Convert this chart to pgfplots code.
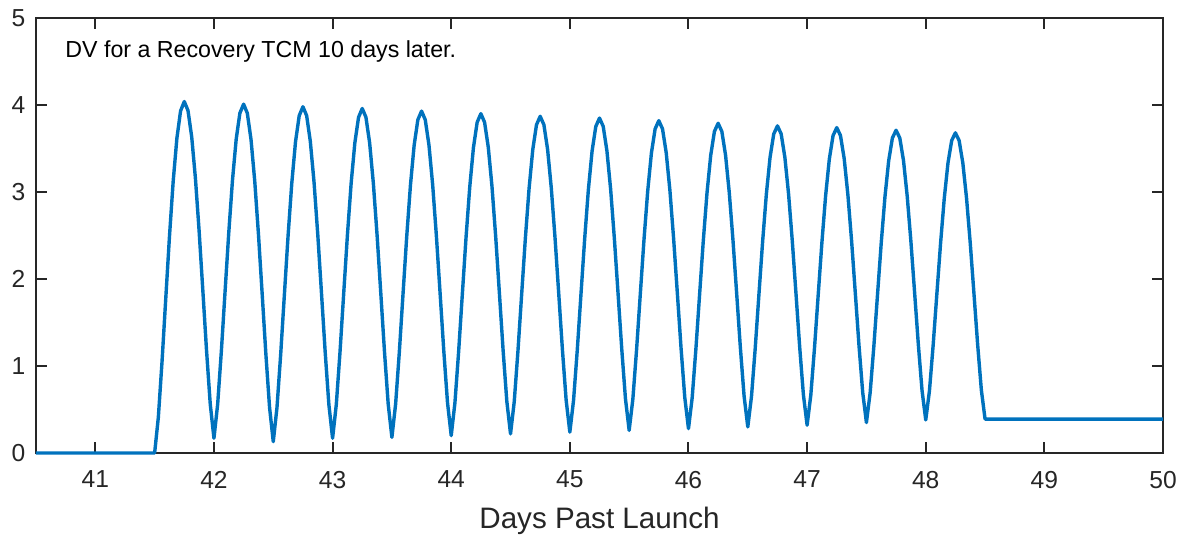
\documentclass[border=0pt]{standalone}
\usepackage{fontspec}
\setmainfont{Liberation Sans}
\usepackage{pgfplots}
\pgfplotsset{compat=1.18}
\definecolor{mblue}{HTML}{0072BD}
\definecolor{axgray}{HTML}{262626}

\begin{document}
\begin{tikzpicture}
\begin{axis}[
    at={(0,0)}, anchor=south west,
    scale only axis,
    width=563.5pt, height=217.5pt,
    xmin=40.5, xmax=50, ymin=0, ymax=5,
    xtick={41,...,50}, ytick={0,...,5},
    tick align=inside,
    major tick length=5.5pt,
    axis line style={axgray, line width=1pt},
    every tick/.style={axgray, line width=1pt},
    tick label style={axgray, font=\fontsize{12.3}{14}\selectfont},
    /pgf/number format/assume math mode=true,
    xticklabel style={yshift=-5.5pt},
    yticklabel style={xshift=-1.8pt},
    xlabel={Days Past Launch},
    xlabel style={at={(rel axis cs:0.5,0)}, anchor=base, yshift=-37.5pt,
        font=\fontsize{14.8}{16}\selectfont, text=axgray},
    clip=false,
]
\addplot[mblue, line width=1.7pt, mark=none, line join=round] coordinates {
(40.5,0) (41.5,0)
(41.53125,0.410) (41.5625,1.053) (41.59375,1.774) (41.625,2.487) (41.65625,3.120) (41.6875,3.616) (41.71875,3.932) (41.75,4.04)
(41.78125,3.936) (41.8125,3.634) (41.84375,3.159) (41.875,2.552) (41.90625,1.870) (41.9375,1.179) (41.96875,0.563) (42.0,0.17)
(42.03125,0.560) (42.0625,1.171) (42.09375,1.857) (42.125,2.534) (42.15625,3.136) (42.1875,3.607) (42.21875,3.907) (42.25,4.01)
(42.28125,3.906) (42.3125,3.603) (42.34375,3.127) (42.375,2.518) (42.40625,1.834) (42.4375,1.141) (42.46875,0.524) (42.5,0.13)
(42.53125,0.521) (42.5625,1.133) (42.59375,1.821) (42.625,2.500) (42.65625,3.103) (42.6875,3.576) (42.71875,3.877) (42.75,3.98)
(42.78125,3.878) (42.8125,3.580) (42.84375,3.112) (42.875,2.515) (42.90625,1.843) (42.9375,1.163) (42.96875,0.557) (43.0,0.17)
(43.03125,0.555) (43.0625,1.158) (43.09375,1.835) (43.125,2.503) (43.15625,3.097) (43.1875,3.562) (43.21875,3.858) (43.25,3.96)
(43.28125,3.859) (43.3125,3.563) (43.34375,3.099) (43.375,2.507) (43.40625,1.840) (43.4375,1.165) (43.46875,0.564) (43.5,0.18)
(43.53125,0.561) (43.5625,1.157) (43.59375,1.827) (43.625,2.489) (43.65625,3.076) (43.6875,3.537) (43.71875,3.830) (43.75,3.93)
(43.78125,3.830) (43.8125,3.539) (43.84375,3.081) (43.875,2.496) (43.90625,1.838) (43.9375,1.172) (43.96875,0.579) (44.0,0.20)
(44.03125,0.576) (44.0625,1.164) (44.09375,1.825) (44.125,2.478) (44.15625,3.058) (44.1875,3.512) (44.21875,3.801) (44.25,3.90)
(44.28125,3.801) (44.3125,3.514) (44.34375,3.062) (44.375,2.485) (44.40625,1.836) (44.4375,1.179) (44.46875,0.594) (44.5,0.22)
(44.53125,0.590) (44.5625,1.171) (44.59375,1.823) (44.625,2.467) (44.65625,3.039) (44.6875,3.487) (44.71875,3.772) (44.75,3.87)
(44.78125,3.773) (44.8125,3.489) (44.84375,3.043) (44.875,2.475) (44.90625,1.834) (44.9375,1.186) (44.96875,0.608) (45.0,0.24)
(45.03125,0.606) (45.0625,1.181) (45.09375,1.825) (45.125,2.462) (45.15625,3.028) (45.1875,3.471) (45.21875,3.753) (45.25,3.85)
(45.28125,3.754) (45.3125,3.473) (45.34375,3.033) (45.375,2.470) (45.40625,1.837) (45.4375,1.196) (45.46875,0.624) (45.5,0.26)
(45.53125,0.621) (45.5625,1.188) (45.59375,1.824) (45.625,2.452) (45.65625,3.009) (45.6875,3.447) (45.71875,3.725) (45.75,3.82)
(45.78125,3.725) (45.8125,3.449) (45.84375,3.014) (45.875,2.459) (45.90625,1.835) (45.9375,1.203) (45.96875,0.639) (46.0,0.28)
(46.03125,0.636) (46.0625,1.195) (46.09375,1.822) (46.125,2.441) (46.15625,2.991) (46.1875,3.422) (46.21875,3.696) (46.25,3.79)
(46.28125,3.696) (46.3125,3.424) (46.34375,2.995) (46.375,2.448) (46.40625,1.833) (46.4375,1.209) (46.46875,0.654) (46.5,0.30)
(46.53125,0.651) (46.5625,1.202) (46.59375,1.820) (46.625,2.430) (46.65625,2.972) (46.6875,3.397) (46.71875,3.667) (46.75,3.76)
(46.78125,3.668) (46.8125,3.399) (46.84375,2.977) (46.875,2.438) (46.90625,1.831) (46.9375,1.216) (46.96875,0.669) (47.0,0.32)
(47.03125,0.667) (47.0625,1.211) (47.09375,1.822) (47.125,2.425) (47.15625,2.961) (47.1875,3.381) (47.21875,3.648) (47.25,3.74)
(47.28125,3.649) (47.3125,3.384) (47.34375,2.968) (47.375,2.437) (47.40625,1.839) (47.4375,1.233) (47.46875,0.694) (47.5,0.35)
(47.53125,0.691) (47.5625,1.226) (47.59375,1.826) (47.625,2.418) (47.65625,2.945) (47.6875,3.358) (47.71875,3.620) (47.75,3.71)
(47.78125,3.621) (47.8125,3.361) (47.84375,2.952) (47.875,2.430) (47.90625,1.842) (47.9375,1.248) (47.96875,0.718) (48.0,0.38)
(48.03125,0.715) (48.0625,1.240) (48.09375,1.829) (48.125,2.411) (48.15625,2.929) (48.1875,3.334) (48.21875,3.592) (48.25,3.68)
(48.28125,3.592) (48.3125,3.335) (48.34375,2.931) (48.375,2.415) (48.40625,1.835) (48.4375,1.247) (48.46875,0.724) (48.5,0.39)
(50,0.39)
};
\node[anchor=base west, inner sep=0pt, text=black, font=\fontsize{11.6}{13}\selectfont]
    at (axis cs:40.745,4.55) {DV for a Recovery TCM 10 days later.};
\end{axis}
\pgfresetboundingbox
\useasboundingbox (-18pt,-41pt) rectangle (575pt,226.5pt);
\end{tikzpicture}
\end{document}
